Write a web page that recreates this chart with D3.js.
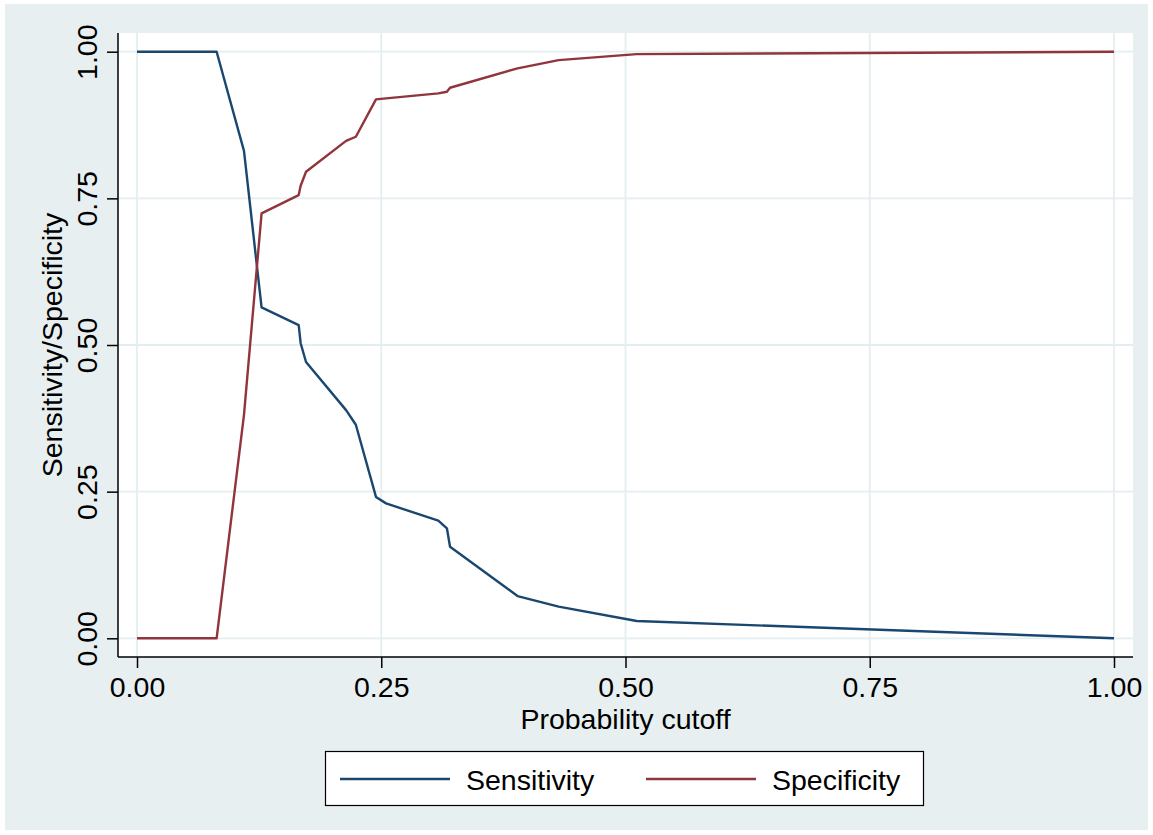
<!DOCTYPE html>
<html>
<head>
<meta charset="utf-8">
<script src="https://d3js.org/d3.v7.min.js"></script>
<style>
    html, body { margin: 0; padding: 0; background: #ffffff; }
    svg { display: block; }
</style>
</head>
<body>
<div id="chart"></div>
<script>
// Probability cutoffs (x) with sensitivity / specificity
const cutoffs     = [0, 0.0815, 0.1095, 0.1275, 0.1655, 0.1675, 0.173, 0.214, 0.224, 0.2446, 0.2549, 0.3084, 0.3172, 0.3204, 0.3895, 0.4316, 0.5115, 1];
const sensitivity = [1, 1, 0.831, 0.564, 0.534, 0.503, 0.471, 0.389, 0.364, 0.241, 0.230, 0.2005, 0.1875, 0.156, 0.072, 0.054, 0.0295, 0];
const specificity = [0, 0, 0.381, 0.7244, 0.7556, 0.7714, 0.7953, 0.848, 0.855, 0.9187, 0.9204, 0.929, 0.9317, 0.9385, 0.9716, 0.9857, 0.9959, 1];

const tickValues = [0, 0.25, 0.5, 0.75, 1];
const tickLabels = ['0.00', '0.25', '0.50', '0.75', '1.00'];

const seriesNames  = ['Sensitivity', 'Specificity'];
const seriesColors = ['#1a476f', '#90353b'];

const W = 1153, H = 835;
const bg = '#e7eff0';
const grid = '#e4eef0';
const font = '"Liberation Sans", Arial, Helvetica, sans-serif';

const svg = d3.select('#chart').append('svg')
    .attr('width', W)
    .attr('height', H);

// Outer background
svg.append('rect')
    .attr('x', 5).attr('y', 4)
    .attr('width', W - 10).attr('height', H - 9)
    .attr('fill', bg);

// Scales (padding mirrors Stata's default range extension)
const x = d3.scaleLinear().domain([0, 1]).range([137, 1114]);
const y = d3.scaleLinear().domain([0, 1]).range([638.3, 51.7]);

const plotLeft = 118, plotRight = 1133, plotTop = 33, plotBottom = 657;

// Plot region
svg.append('rect')
    .attr('x', plotLeft).attr('y', plotTop)
    .attr('width', plotRight - plotLeft).attr('height', plotBottom - plotTop)
    .attr('fill', '#ffffff');

// Gridlines
const g = svg.append('g');
g.selectAll('line.gx')
    .data(tickValues)
    .join('line')
    .attr('class', 'gx')
    .attr('x1', d => x(d)).attr('x2', d => x(d))
    .attr('y1', plotTop).attr('y2', plotBottom)
    .attr('stroke', grid).attr('stroke-width', 1.8);

g.selectAll('line.gy')
    .data(tickValues)
    .join('line')
    .attr('class', 'gy')
    .attr('x1', plotLeft).attr('x2', plotRight)
    .attr('y1', d => y(d)).attr('y2', d => y(d))
    .attr('stroke', grid).attr('stroke-width', 1.8);

// Curves
const series = [sensitivity, specificity];
const line = d3.line()
    .x((d, i) => x(cutoffs[i]))
    .y(d => y(d));

svg.append('g')
    .selectAll('path')
    .data(series)
    .join('path')
    .attr('d', d => line(d))
    .attr('fill', 'none')
    .attr('stroke', (d, i) => seriesColors[i])
    .attr('stroke-width', 2.4)
    .attr('stroke-linejoin', 'round');

// Axes
const xAxis = d3.axisBottom(x)
    .tickValues(tickValues)
    .tickFormat((d, i) => tickLabels[i])
    .tickSize(11)
    .tickSizeOuter(0)
    .tickPadding(9);

const xg = svg.append('g')
    .attr('transform', `translate(0,${plotBottom})`)
    .call(xAxis);
xg.select('.domain').remove();
xg.append('line')
    .attr('x1', plotLeft).attr('x2', plotRight)
    .attr('y1', 0).attr('y2', 0)
    .attr('stroke', '#000').attr('stroke-width', 1.5);
xg.selectAll('.tick line').attr('stroke', '#000').attr('stroke-width', 1.5);
xg.selectAll('.tick text')
    .attr('font-family', font)
    .attr('font-size', '28.5px')
    .attr('fill', '#000');

const yAxis = d3.axisLeft(y)
    .tickValues(tickValues)
    .tickFormat((d, i) => tickLabels[i])
    .tickSize(11)
    .tickSizeOuter(0);

const yg = svg.append('g')
    .attr('transform', `translate(${plotLeft},0)`)
    .call(yAxis);
yg.select('.domain').remove();
yg.append('line')
    .attr('x1', 0).attr('x2', 0)
    .attr('y1', plotTop).attr('y2', plotBottom)
    .attr('stroke', '#000').attr('stroke-width', 1.5);
yg.selectAll('.tick line').attr('stroke', '#000').attr('stroke-width', 1.5);
yg.selectAll('.tick text')
    .attr('font-family', font)
    .attr('font-size', '28.5px')
    .attr('fill', '#000')
    .attr('x', null).attr('dy', null)
    .attr('text-anchor', 'middle')
    .attr('transform', 'translate(-21,0) rotate(-90)');

// Axis titles
svg.append('text')
    .attr('x', x(0.5)).attr('y', 729)
    .attr('text-anchor', 'middle')
    .attr('font-family', font)
    .attr('font-size', '28.5px')
    .text('Probability cutoff');

svg.append('text')
    .attr('transform', `translate(62,${y(0.5)}) rotate(-90)`)
    .attr('text-anchor', 'middle')
    .attr('font-family', font)
    .attr('font-size', '28.5px')
    .text('Sensitivity/Specificity');

// Legend
const legend = svg.append('g');
legend.append('rect')
    .attr('x', 325.5).attr('y', 751.5)
    .attr('width', 598).attr('height', 54)
    .attr('fill', '#ffffff')
    .attr('stroke', '#000').attr('stroke-width', 1.2);

const legendLineX = [340, 646];
const legendTextX = [466, 772];
const items = legend.selectAll('g.item')
    .data(seriesNames)
    .join('g')
    .attr('class', 'item');
items.append('line')
    .attr('x1', (d, i) => legendLineX[i]).attr('x2', (d, i) => legendLineX[i] + 110)
    .attr('y1', 779).attr('y2', 779)
    .attr('stroke', (d, i) => seriesColors[i])
    .attr('stroke-width', 2.4);
items.append('text')
    .attr('x', (d, i) => legendTextX[i]).attr('y', 790)
    .attr('font-family', font)
    .attr('font-size', '28.5px')
    .text(d => d);
</script>
</body>
</html>
